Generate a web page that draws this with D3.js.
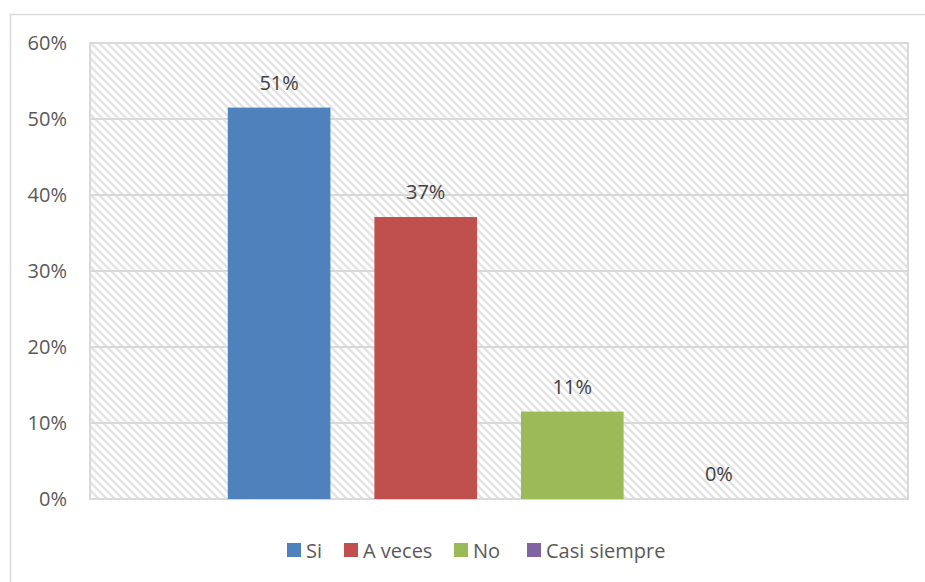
<!DOCTYPE html>
<html lang="es">
<head>
    <meta charset="UTF-8">
    <script src="https://d3js.org/d3.v7.min.js"></script>
    <style>
        body { margin: 0; background: #fff; }
        svg text { font-family: "Open Sans", Arial, sans-serif; }
        .tick text { font-size: 20px; fill: #595959; }
        .label { font-size: 20px; fill: #404040; }
        .legend text { font-size: 20px; fill: #595959; }
    </style>
</head>
<body>
    <svg id="chart"></svg>
    <script>
        const series = ["Si", "A veces", "No", "Casi siempre"];
        const values = [0.515, 0.371, 0.115, 0];
        const labels = ["51%", "37%", "11%", "0%"];
        const colors = ["#4f81bd", "#c0504d", "#9bbb59", "#8064a2"];
        const yTicks = [0, 0.1, 0.2, 0.3, 0.4, 0.5, 0.6];

        const data = series.map((s, i) => ({ serie: s, valor: values[i], label: labels[i], color: colors[i] }));

        const W = 925, H = 582;
        const margin = { top: 43, right: 17, bottom: 83, left: 90 };
        const plotL = margin.left, plotR = W - margin.right;
        const plotT = margin.top, plotB = H - margin.bottom;

        const svg = d3.select("#chart").attr("width", W).attr("height", H);

        // patrón de rayas diagonales
        const defs = svg.append("defs");
        const pat = defs.append("pattern")
            .attr("id", "hatch")
            .attr("patternUnits", "userSpaceOnUse")
            .attr("width", 8).attr("height", 8);
        pat.append("rect").attr("width", 8).attr("height", 8).attr("fill", "#fff");
        pat.append("path")
            .attr("d", "M-2,-2 L10,10 M-2,6 L2,10 M6,-2 L10,2")
            .attr("stroke", "#e3e3e3")
            .attr("stroke-width", 2.4);

        // marco exterior
        svg.append("rect")
            .attr("x", 10.5).attr("y", 14.5)
            .attr("width", W + 10).attr("height", H + 10)
            .attr("fill", "none").attr("stroke", "#d9d9d9").attr("stroke-width", 1.5);

        svg.append("rect")
            .attr("x", plotL).attr("y", plotT)
            .attr("width", plotR - plotL).attr("height", plotB - plotT)
            .attr("fill", "url(#hatch)");

        const y = d3.scaleLinear().domain([0, 0.6]).range([plotB, plotT]);
        const x = d3.scaleBand()
            .domain(series)
            .range([plotL, plotR])
            .paddingInner(0.3)
            .paddingOuter(0.94);

        // rejilla
        svg.append("g")
            .selectAll("line")
            .data(yTicks)
            .enter()
            .append("line")
            .attr("x1", plotL).attr("x2", plotR)
            .attr("y1", d => y(d)).attr("y2", d => y(d))
            .attr("stroke", "#d9d9d9").attr("stroke-width", 2);

        svg.append("rect")
            .attr("x", plotL).attr("y", plotT)
            .attr("width", plotR - plotL).attr("height", plotB - plotT)
            .attr("fill", "none").attr("stroke", "#d9d9d9").attr("stroke-width", 2);

        const yAxis = svg.append("g")
            .attr("transform", `translate(${plotL},0)`)
            .call(d3.axisLeft(y).tickValues(yTicks).tickFormat(d3.format(".0%")).tickSize(0).tickPadding(23));
        yAxis.select(".domain").remove();

        svg.selectAll(".bar")
            .data(data)
            .enter()
            .append("rect")
            .attr("class", "bar")
            .attr("x", d => x(d.serie))
            .attr("y", d => y(d.valor))
            .attr("width", x.bandwidth())
            .attr("height", d => plotB - y(d.valor))
            .attr("fill", d => d.color);

        svg.selectAll(".label")
            .data(data)
            .enter()
            .append("text")
            .attr("class", "label")
            .attr("x", d => x(d.serie) + x.bandwidth() / 2)
            .attr("y", d => y(d.valor) - 18)
            .attr("text-anchor", "middle")
            .text(d => d.label);

        // leyenda
        const legendX = [287, 344, 454, 527];
        const legend = svg.append("g").attr("class", "legend");
        const items = legend.selectAll("g")
            .data(data)
            .enter()
            .append("g")
            .attr("transform", (d, i) => `translate(${legendX[i]},543)`);
        items.append("rect")
            .attr("width", 14).attr("height", 14)
            .attr("fill", d => d.color);
        items.append("text")
            .attr("x", 19).attr("y", 15)
            .text(d => d.serie);
    </script>
</body>
</html>
